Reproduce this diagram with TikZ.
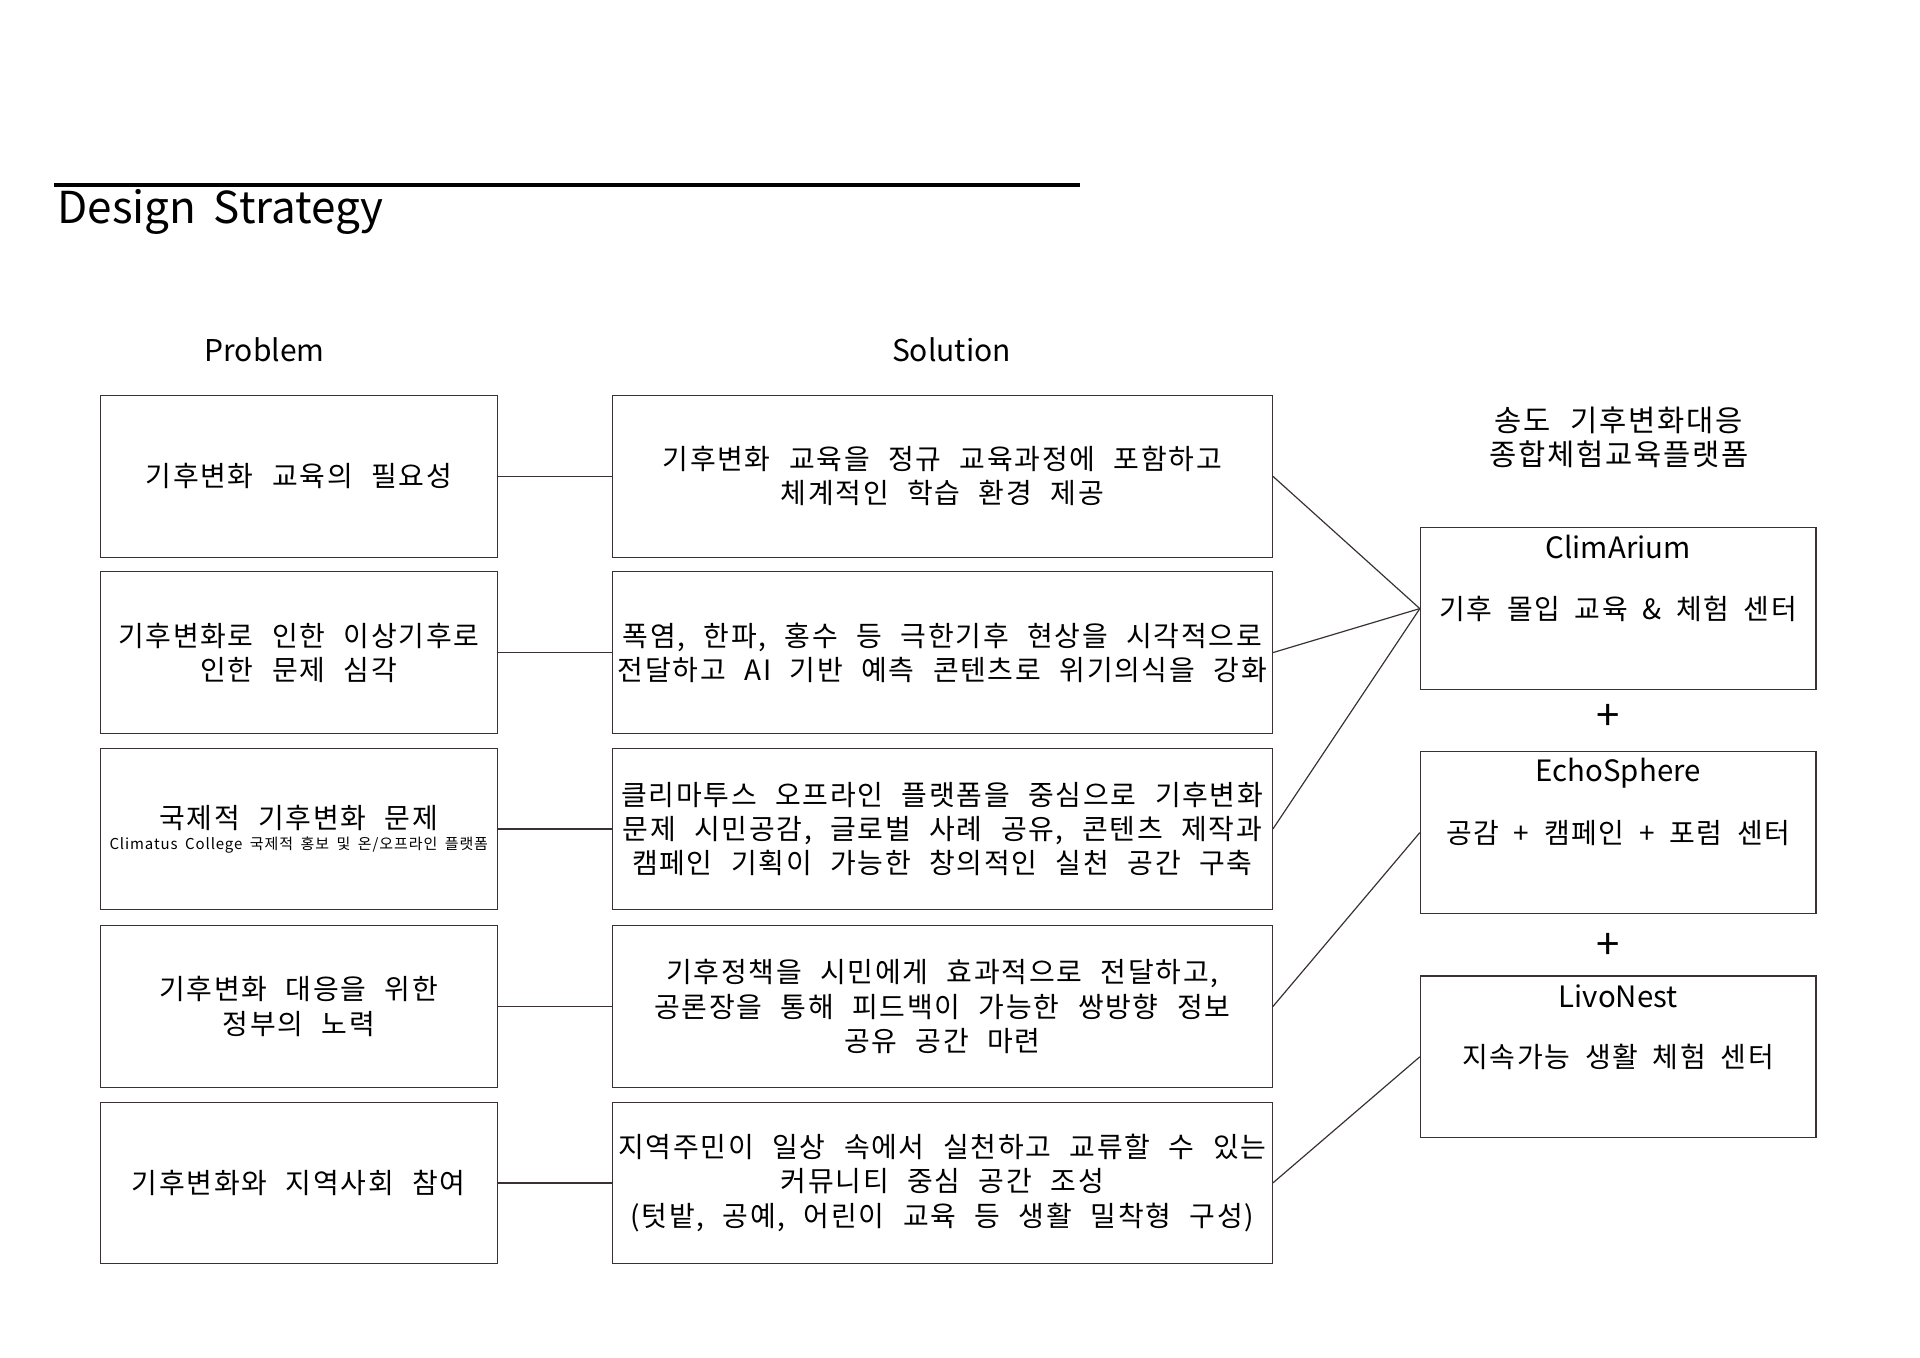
\documentclass[tikz,border=0pt]{standalone}
\usepackage{fontspec}
\setmainfont{Noto Sans CJK KR}
\newfontfamily\hanfont[LetterSpace=6]{Noto Sans CJK KR}
\usepackage{tikz}
\usetikzlibrary{positioning}
\definecolor{linegray}{RGB}{58,50,50}
\newcommand\wordgap[1]{\spaceskip #1\relax}

\begin{document}
\begin{tikzpicture}[x=0.5pt,y=-0.5pt,
  probbox/.style={draw=linegray,line width=0.6pt,minimum width=198.4pt,minimum height=80.8pt,
    inner sep=0pt,align=center,font={\hanfont\fontsize{14}{17.1}\selectfont\wordgap{0.66em}}},
  solbox/.style={probbox,minimum width=330pt},
  platbox/.style={probbox,minimum width=197.8pt,font={\hanfont\fontsize{14}{17.1}\selectfont\wordgap{0.52em}}},
  headtext/.style={inner sep=0pt,align=center,font=\fontsize{14.7}{17.1}\selectfont},
  plustext/.style={inner sep=0pt,font=\fontsize{21}{22}\selectfont},
  link/.style={draw=linegray,line width=0.6pt}]
  \useasboundingbox (0,0) rectangle (1920,1358);

  % title
  \draw[line width=1.7pt] (54,185) -- (1080,185);
  \node[anchor=west,inner sep=0pt,font={\fontsize{22}{24}\selectfont\wordgap{0.4em}}] (title) at (57,212) {Design Strategy};

  \node[headtext,font=\fontsize{15}{17.1}\selectfont] (probhead) at (264.5,350) {Problem};
  \node[headtext,font=\fontsize{15}{17.1}\selectfont] (solhead) at (951.5,350) {Solution};
  \node[headtext,font={\hanfont\fontsize{14.8}{17.1}\selectfont\wordgap{0.65em}}] (plathead) at (1618.8,437.2) {송도 기후변화대응\\종합체험교육플랫폼};

  % problems
  \node[probbox] (p1) at (298.75,476.3) {기후변화 교육의 필요성};
  \node[probbox] (p2) at (298.75,652.6) {기후변화로 인한 이상기후로\\인한 문제 심각};
  \node[probbox] (p3) at (298.75,829) {국제적 기후변화 문제\\[-6.5pt]{\fontsize{7.5}{9}\selectfont\wordgap{0.5em}Climatus College 국제적 홍보 및 온/오프라인 플랫폼}};
  \node[probbox] (p4) at (298.75,1006.5) {기후변화 대응을 위한\\정부의 노력};
  \node[probbox] (p5) at (298.75,1182.9) {기후변화와 지역사회 참여};

  % solutions
  \node[solbox] (s1) at (942.3,476.3) {기후변화 교육을 정규 교육과정에 포함하고\\체계적인 학습 환경 제공};
  \node[solbox] (s2) at (942.3,652.6) {폭염, 한파, 홍수 등 극한기후 현상을 시각적으로\\전달하고 AI 기반 예측 콘텐츠로 위기의식을 강화};
  \node[solbox] (s3) at (942.3,829) {클리마투스 오프라인 플랫폼을 중심으로 기후변화\\문제 시민공감, 글로벌 사례 공유, 콘텐츠 제작과\\캠페인 기획이 가능한 창의적인 실천 공간 구축};
  \node[solbox] (s4) at (942.3,1006.5) {기후정책을 시민에게 효과적으로 전달하고,\\공론장을 통해 피드백이 가능한 쌍방향 정보\\공유 공간 마련};
  \node[solbox] (s5) at (942.3,1182.9) {지역주민이 일상 속에서 실천하고 교류할 수 있는\\커뮤니티 중심 공간 조성\\(텃밭, 공예, 어린이 교육 등 생활 밀착형 구성)};

  % platforms
  \node[platbox] (clim) at (1618.2,608.6) {기후 몰입 교육 \& 체험 센터};
  \node[headtext] (climT) at (1618.2,547.4) {ClimArium};
  \node[plustext] (plusA) at (1607.8,717.6) {+};
  \node[platbox] (echo) at (1618.2,832.6) {공감 + 캠페인 + 포럼 센터};
  \node[headtext] (echoT) at (1618.2,772.7) {EchoSphere};
  \node[plustext] (plusB) at (1607.8,946.6) {+};
  \node[platbox] (livo) at (1618.2,1056.8) {지속가능 생활 체험 센터};
  \node[headtext] (livoT) at (1618.2,996.7) {LivoNest};

  % connectors
  \draw[link] (p1) -- (s1);
  \draw[link] (p2) -- (s2);
  \draw[link] (p3) -- (s3);
  \draw[link] (p4) -- (s4);
  \draw[link] (p5) -- (s5);
  \draw[link] (s1.east) -- (clim.west);
  \draw[link] (s2.east) -- (clim.west);
  \draw[link] (s3.east) -- (clim.west);
  \draw[link] (s4.east) -- (echo.west);
  \draw[link] (s5.east) -- (livo.west);
\end{tikzpicture}
\end{document}
